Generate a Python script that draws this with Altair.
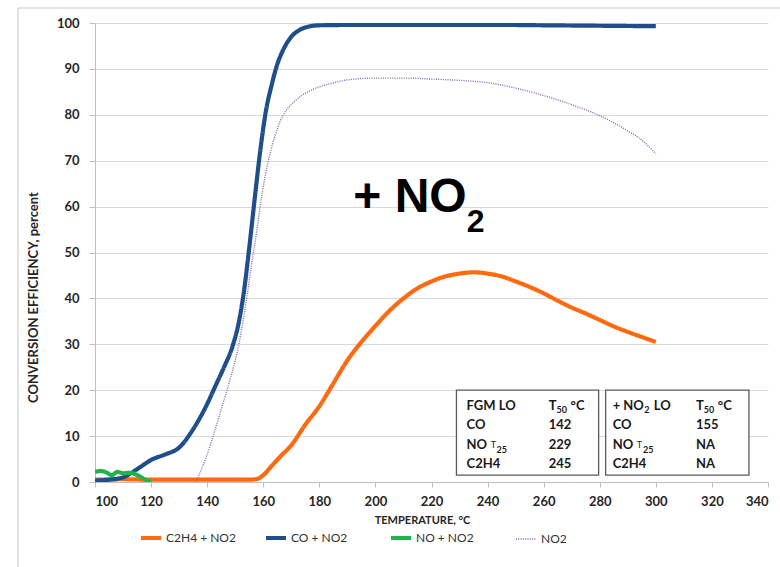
import altair as alt
import pandas as pd

# ---------------- data ----------------
series_names = ["C2H4 + NO2", "CO + NO2", "NO + NO2", "NO2"]
series_colors = ["#FF6A10", "#1F4E8A", "#22B24C", "#8464B4"]
series_widths = [4.2, 4.2, 4.2, 1.4]
series_dashes = [[1, 0], [1, 0], [1, 0], [1.0, 1.3]]

c2h4_temp = [100, 110, 120, 130, 140, 150, 155, 158, 160, 163, 166, 170, 175, 180, 185, 190,
             195, 200, 205, 210, 215, 220, 225, 230, 235, 240, 245, 250, 255, 260, 265, 270,
             275, 280, 285, 290, 295, 300]
c2h4_val = [0.5, 0.6, 0.5, 0.5, 0.5, 0.5, 0.5, 0.7, 1.5, 3.5, 5.5, 8.0, 12.5, 16.5, 21.5, 26.5,
            30.5, 34.0, 37.3, 40.0, 42.2, 43.7, 44.8, 45.4, 45.7, 45.4, 44.8, 43.7, 42.5, 41.1, 39.5, 38.0,
            36.7, 35.3, 33.9, 32.7, 31.6, 30.5]

co_temp = [100, 105, 110, 113, 116, 120, 125, 130, 135, 140, 143, 146, 149, 151, 153, 155, 157,
           159, 161, 163, 165, 167, 170, 173, 176, 180, 200, 220, 240, 260, 280, 300]
co_val = [0.3, 0.5, 1.0, 2.0, 3.2, 4.8, 6.0, 7.5, 11.5, 17.0, 21.0, 25.0, 29.5, 34.0, 41.0, 51.0, 62.0,
          72.5, 81.0, 86.5, 91.0, 94.0, 97.0, 98.5, 99.2, 99.5, 99.6, 99.6, 99.6, 99.5, 99.4, 99.3]

no_temp = [100, 102, 104, 106, 108, 110, 112, 114, 116, 118, 120]
no_val = [2.2, 2.4, 2.1, 1.5, 2.2, 1.9, 2.0, 1.8, 1.2, 0.5, 0.0]

no2_temp = [136, 140, 144.6, 148, 150.6, 152.5, 154.2, 155.5, 156.5, 158, 159, 160.5, 162, 164, 166,
            168, 171, 174, 178, 184, 190, 200, 210, 220, 230, 240, 250, 260, 270, 280, 290, 295, 300]
no2_val = [0.0, 6.0, 15.0, 22.0, 28.0, 34.0, 40.4, 46.0, 50.0, 56.0, 60.5, 66.0, 70.5, 75.0, 78.5,
           80.8, 82.8, 84.3, 85.6, 86.8, 87.6, 88.0, 88.0, 87.8, 87.5, 87.0, 85.8, 84.2, 82.2, 79.8, 76.5, 74.5, 71.5]

x_ticks = list(range(100, 341, 20))
y_ticks = list(range(0, 101, 10))

# summary tables (text, temperature position, efficiency position)
table_main_text = ["FGM LO", "T", "°C", "CO", "142", "NO", "229", "C2H4", "245",
                   "+ NO", "LO", "T", "°C", "CO", "155", "NO", "NA", "C2H4", "NA"]
table_main_x = [232.5, 261.8, 269.6, 232.5, 261.8, 232.5, 261.8, 232.5, 261.8,
                284.6, 299.3, 314.3, 322.1, 284.6, 314.3, 284.6, 314.3, 284.6, 314.3]
table_main_y = [16.6, 16.6, 16.6, 12.4, 12.4, 8.1, 8.1, 3.9, 3.9,
                16.6, 16.6, 16.6, 16.6, 12.4, 12.4, 8.1, 8.1, 3.9, 3.9]
table_sub_text = ["50", "25", "2", "50", "25"]
table_sub_x = [264.6, 243.2, 295.9, 317.1, 295.4]
table_sub_y = [15.6, 7.0, 15.6, 15.6, 7.0]
table_small_t_x = [241.1, 293.2]
table_small_t_y = [8.0, 8.0]
box_x1 = [228.9, 282.1]
box_x2 = [279.6, 333.2]
box_y1 = [1.5, 1.5]
box_y2 = [20.0, 20.0]

# ---------------- build tables ----------------
rows = []
for name, ts, vs in [("C2H4 + NO2", c2h4_temp, c2h4_val), ("CO + NO2", co_temp, co_val),
                     ("NO + NO2", no_temp, no_val), ("NO2", no2_temp, no2_val)]:
    for t, v in zip(ts, vs):
        rows.append({"series": name, "temp": t, "eff": v})
df = pd.DataFrame(rows)

FONT = "Lato"
x_scale = alt.Scale(domain=[100, 340], nice=False)
y_scale = alt.Scale(domain=[0, 100], nice=False)

legend_cfg = dict(title=None, orient="none", direction="horizontal",
                  legendX=50, legendY=509, symbolType="stroke",
                  symbolSize=400, columnPadding=22, gridAlign="all",
                  symbolStrokeWidth=alt.ExprRef("datum.value == 'NO2' ? 1.5 : 4"),
                  labelFont=FONT, labelFontSize=12, labelColor="#333333",
                  labelOffset=9)

enc = dict(
    x=alt.X("temp:Q", scale=x_scale, title="TEMPERATURE, °C",
            axis=alt.Axis(values=x_ticks, grid=False, tickSize=5, labelPadding=8,
                          titlePadding=6, format="d", titleFontSize=11, titleX=327)),
    y=alt.Y("eff:Q", scale=y_scale, title="CONVERSION EFFICIENCY, percent",
            axis=alt.Axis(values=y_ticks, grid=True, tickSize=6, labelPadding=10,
                          titlePadding=16, format="d", titleFontSize=13, titleY=274)),
    color=alt.Color("series:N", scale=alt.Scale(domain=series_names, range=series_colors),
                    legend=alt.Legend(**legend_cfg)),
    strokeDash=alt.StrokeDash("series:N", scale=alt.Scale(domain=series_names, range=series_dashes),
                              legend=alt.Legend(**legend_cfg)),
)

lines = [
    alt.Chart(df).transform_filter(alt.datum.series == s)
    .mark_line(clip=True, interpolate="monotone", strokeWidth=w).encode(**enc)
    for s, w in zip(series_names, series_widths)
]

# boxes
box_df = pd.DataFrame({"x1": box_x1, "x2": box_x2, "y1": box_y1, "y2": box_y2})
boxes = alt.Chart(box_df).mark_rect(fill="white", stroke="#595959", strokeWidth=1.3).encode(
    x=alt.X("x1:Q", scale=x_scale), x2="x2:Q",
    y=alt.Y("y1:Q", scale=y_scale), y2="y2:Q")

main_df = pd.DataFrame({"t": table_main_text, "x": table_main_x, "y": table_main_y})
main_txt = alt.Chart(main_df).mark_text(align="left", baseline="middle", font=FONT,
                                        fontWeight="bold", fontSize=13, color="#1a1a1a").encode(
    x=alt.X("x:Q", scale=x_scale), y=alt.Y("y:Q", scale=y_scale), text="t:N")

sub_df = pd.DataFrame({"t": table_sub_text, "x": table_sub_x, "y": table_sub_y})
sub_txt = alt.Chart(sub_df).mark_text(align="left", baseline="middle", font=FONT,
                                      fontWeight="bold", fontSize=9, color="#1a1a1a").encode(
    x=alt.X("x:Q", scale=x_scale), y=alt.Y("y:Q", scale=y_scale), text="t:N")

smallt_df = pd.DataFrame({"t": ["T", "T"], "x": table_small_t_x, "y": table_small_t_y})
smallt_txt = alt.Chart(smallt_df).mark_text(align="left", baseline="middle", font=FONT,
                                            fontSize=9, color="#1a1a1a").encode(
    x=alt.X("x:Q", scale=x_scale), y=alt.Y("y:Q", scale=y_scale), text="t:N")

# big "+ NO2" annotation
ann_main = pd.DataFrame({"t": ["+ NO"], "x": [192.1], "y": [58.8]})
ann_sub = pd.DataFrame({"t": ["2"], "x": [232.6], "y": [54.4]})

def ann(data, size):
    return alt.Chart(data).mark_text(align="left", baseline="alphabetic", font="Liberation Sans",
                                     fontWeight="bold", fontSize=size, color="black").encode(
        x=alt.X("x:Q", scale=x_scale), y=alt.Y("y:Q", scale=y_scale), text="t:N")

label = ann(ann_main, 48) + ann(ann_sub, 32)

frame = alt.Chart(pd.DataFrame({"k": [0]})).mark_rect(fill=None, stroke="#d0d0d0", strokeWidth=1.2).encode(
    x=alt.value(-77), x2=alt.value(720), y=alt.value(-15), y2=alt.value(560))

chart = alt.layer(frame, *lines, boxes, main_txt, sub_txt, smallt_txt, label).properties(
    width=673, height=459,
    autosize=alt.AutoSizeParams(type="none"),
    padding={"left": 95, "top": 23, "right": 12, "bottom": 85},
).configure_view(stroke=None).configure_axis(
    labelFont=FONT, labelFontWeight="bold", labelFontSize=13, labelColor="#262626",
    titleFont=FONT, titleFontWeight="bold", titleColor="#262626",
    domainColor="#bfbfbf", tickColor="#bfbfbf", gridColor="#d9d9d9", gridWidth=1.2,
).resolve_scale(x="shared", y="shared")

chart.save("out.html", embed_options={"renderer": "svg", "actions": False})
